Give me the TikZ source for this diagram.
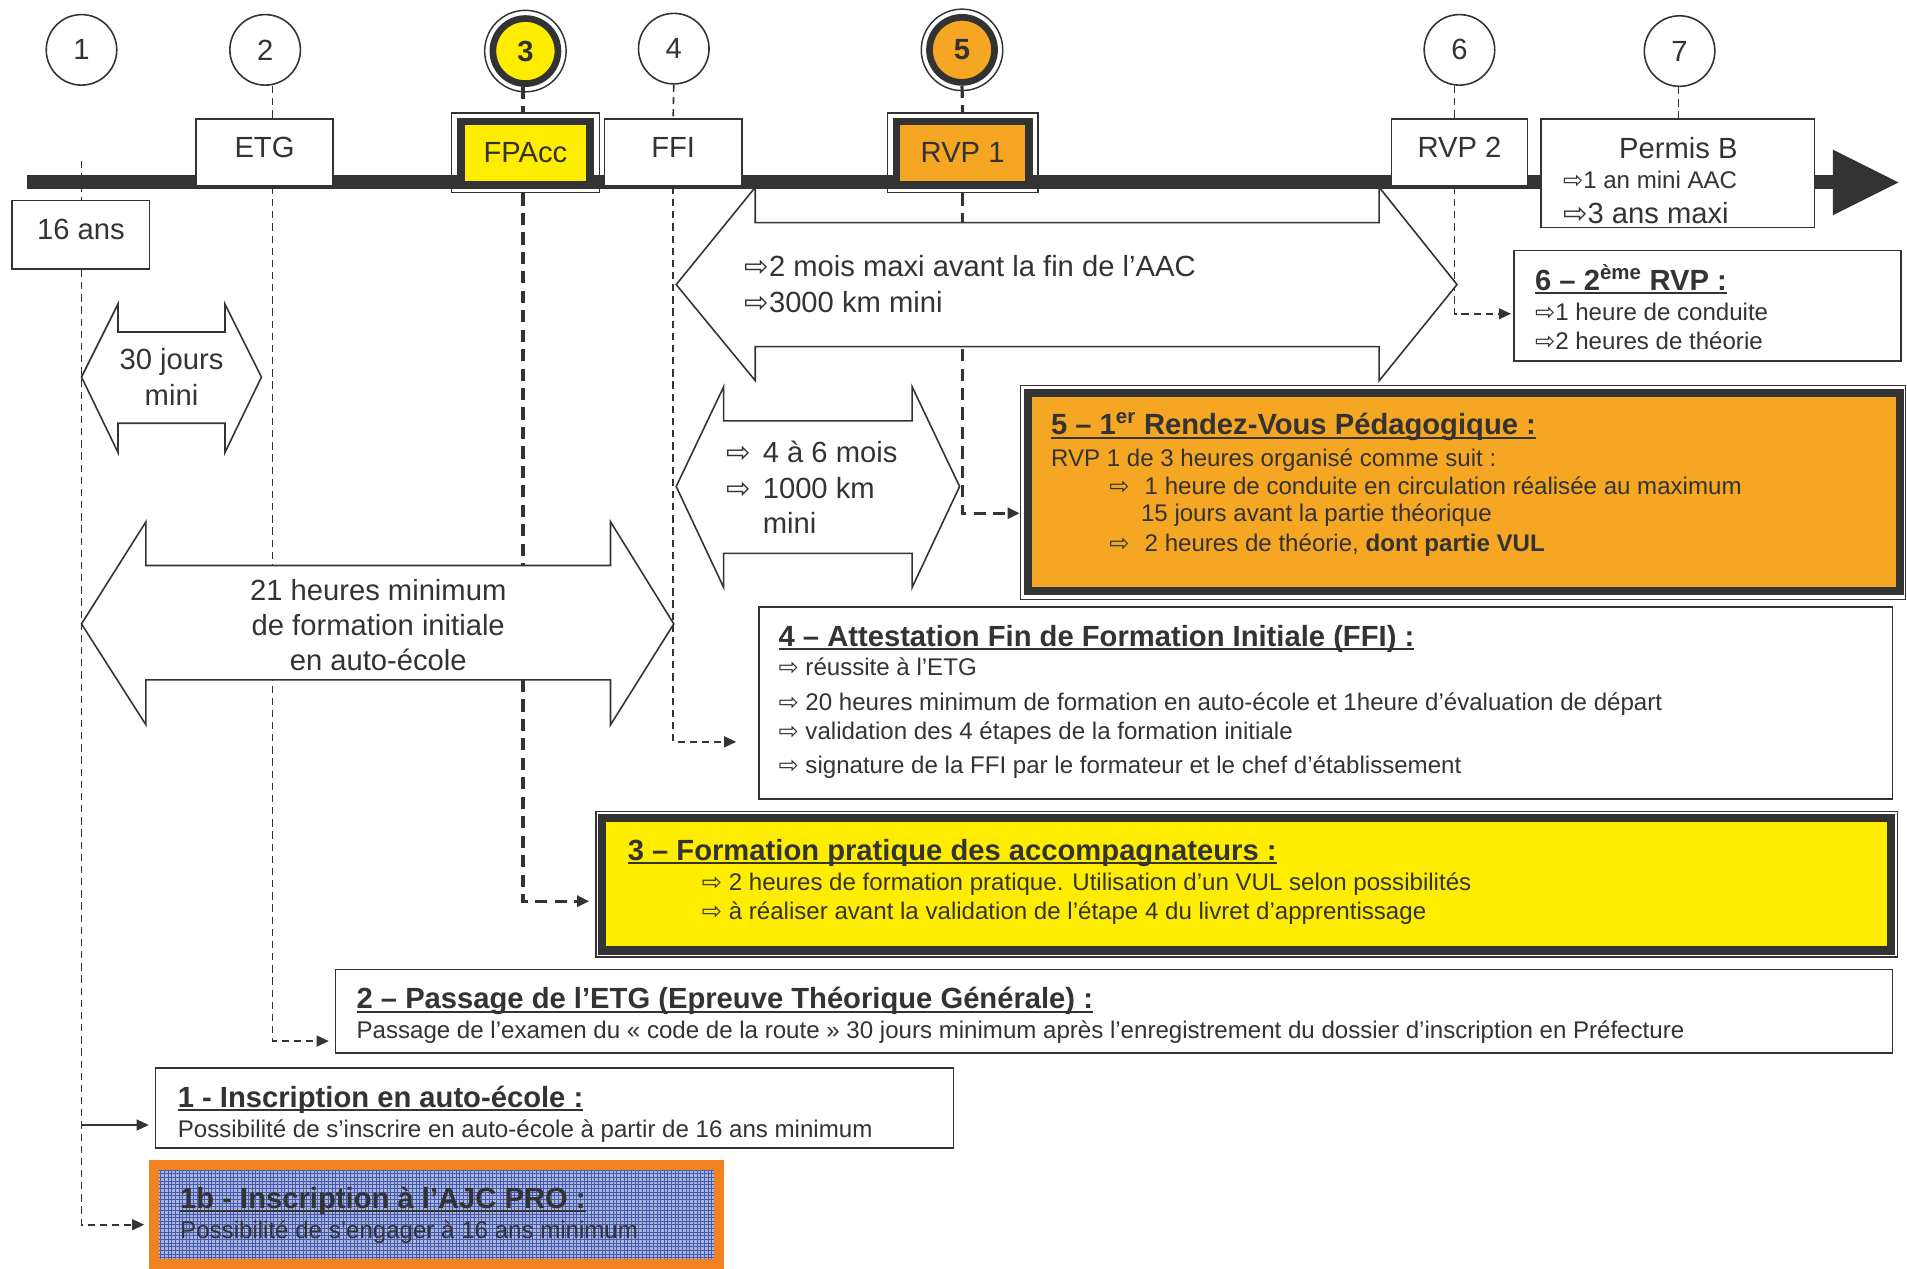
\documentclass[tikz,border=0pt]{standalone}
\usepackage{fontspec}
\setmainfont{Liberation Sans}
\newfontfamily\symfont{DejaVu Sans}
\usetikzlibrary{arrows.meta,backgrounds,patterns}
\definecolor{encre}{RGB}{51,51,51}
\definecolor{jaune}{RGB}{255,237,0}
\definecolor{orangerv}{RGB}{245,166,35}
\definecolor{orangeaj}{RGB}{242,130,32}
\definecolor{bleuaj}{RGB}{170,182,225}
\definecolor{grilleaj}{RGB}{70,90,170}
\newcommand\grand{\fontsize{24}{29}\selectfont}
\newcommand\corps{\fontsize{19.8}{24}\selectfont}
\newcommand\fl{{\symfont ⇨}}
\newlength\ullong
\newcommand\souligne[1]{\settowidth{\ullong}{#1}\rlap{\rule[-3pt]{\ullong}{1.6pt}}#1}

\begin{document}
\begin{tikzpicture}[x=1pt,y=-1pt,
  boite/.style={draw=encre,line width=1.3,fill=white,inner sep=0,text=encre,font=\grand},
  boitefort/.style={draw=encre,line width=6,inner sep=0,text=encre,font=\grand},
  cadre/.style={draw=encre,line width=1.1,inner sep=0},
  rond/.style={circle,draw=encre,line width=1.3,fill=white,minimum size=58,inner sep=0,text=encre,font=\grand},
  rondfort/.style={circle,draw=encre,line width=5.5,minimum size=53.5,inner sep=0,text=encre,font=\grand\bfseries},
  fleche/.style={draw=encre,line width=1.3,fill=white,line join=miter},
  tiret/.style={encre,line width=1.3,dash pattern=on 6pt off 4pt},
  tiretfort/.style={encre,line width=2.6,dash pattern=on 10pt off 6pt},
  pointe/.style={-{Triangle[length=10pt,width=9pt]}},
  texte/.style={inner sep=0,text=encre,font=\grand},
  ligne/.style={anchor=base west,inner sep=0,text=encre,font=\corps},
  titre/.style={anchor=base west,inner sep=0,text=encre,font=\grand\bfseries}]

\useasboundingbox (0,0) rectangle (1568,1043);

\fill[encre] (22,144) rectangle (1510,155);
\fill[encre] (1507,123) -- (1561,150) -- (1507,177) -- cycle;

\node[rond] (c1) at (67,41) {1};
\node[rond] (c2) at (218,41) {2};
\node[rondfort,fill=jaune] (c3) at (432,42) {3};
\draw[encre,line width=1.2] (c3.center) circle[radius=33.5pt];
\node[rond] (c4) at (554,40) {4};
\node[rondfort,fill=orangerv] (c5) at (791,41) {5};
\draw[encre,line width=1.2] (c5.center) circle[radius=33.5pt];
\node[rond] (c6) at (1200,41) {6};
\node[rond] (c7) at (1381,42) {7};

\node[boite,minimum width=113,minimum height=56,text depth=9pt] (ans16) at (66.5,193) {16 ans};
\node[boite,minimum width=113,minimum height=55,text depth=9pt] (etg) at (217.5,125.5) {ETG};
\node[cadre,minimum width=122,minimum height=65.5] (fpacc-cadre) at (432,125.75) {};
\node[boitefort,fill=jaune,minimum width=106,minimum height=51.5] (fpacc) at (432,125.75) {FPAcc};
\node[boite,minimum width=113,minimum height=55,text depth=9pt] (ffi) at (553.5,125.5) {FFI};
\node[cadre,minimum width=124,minimum height=65.5] (rvp1-cadre) at (791.5,125.75) {};
\node[boitefort,fill=orangerv,minimum width=109,minimum height=51.5] (rvp1) at (791.5,125.75) {RVP 1};
\node[boite,minimum width=112,minimum height=55,text depth=9pt] (rvp2) at (1200,125.5) {RVP 2};
\node[boite,minimum width=225,minimum height=89] (permis) at (1379.5,142.5) {};
\node[texte,anchor=base] (permis-t) at (1380,130.6) {Permis B};
\node[ligne] (permis-l1) at (1285,155.2) {\fl1 an mini AAC};
\node[ligne,font=\grand] (permis-l2) at (1285,183.6) {\fl3 ans maxi};

\draw[fleche] (556,234) -- (621,154) -- (621,183) -- (1134,183) -- (1134,154) -- (1198,234)
  -- (1134,313) -- (1134,285) -- (621,285) -- (621,313) -- cycle;
\node[texte,anchor=base west] (t2m-l1) at (612,227.6) {\fl2 mois maxi avant la fin de l’AAC};
\node[texte,anchor=base west] (t2m-l2) at (612,256.6) {\fl3000 km mini};

\draw[fleche] (67,310) -- (97,250) -- (97,273) -- (185,273) -- (185,250) -- (215,310)
  -- (185,372) -- (185,348) -- (97,348) -- (97,372) -- cycle;
\node[texte,align=center] (t30) at (141,310) {30 jours\\mini};

\draw[fleche] (556,400) -- (595,318) -- (595,346) -- (750,346) -- (750,318) -- (789,400)
  -- (750,483) -- (750,455) -- (595,455) -- (595,483) -- cycle;
\node[texte,anchor=base west] (t46-l1) at (597,380.6) {\makebox[30pt][l]{\fl}4 à 6 mois};
\node[texte,anchor=base west] (t46-l2) at (597,409.6) {\makebox[30pt][l]{\fl}1000 km};
\node[texte,anchor=base west] (t46-l3) at (627,438.6) {mini};

\draw[fleche] (67,513) -- (120,429) -- (120,465) -- (502,465) -- (502,429) -- (554,513)
  -- (502,596) -- (502,559) -- (120,559) -- (120,596) -- cycle;
\node[texte,align=center] (t21) at (311,514) {21 heures minimum\\de formation initiale\\en auto-école};

\node[boite,minimum width=318,minimum height=91] (d6) at (1404,251.5) {};
\node[titre] (d6-t) at (1262,238.6) {\souligne{6 – 2\textsuperscript{ème} RVP :}};
\node[ligne] (d6-l1) at (1262,263.2) {\fl1 heure de conduite};
\node[ligne] (d6-l2) at (1262,287.2) {\fl2 heures de théorie};

\node[cadre,minimum width=728,minimum height=176] (d5-cadre) at (1203,405) {};
\node[boitefort,line width=6.5,fill=orangerv,minimum width=717,minimum height=163] (d5) at (1203.5,404.5) {};
\node[titre] (d5-t) at (864,357.6) {\souligne{5 – 1\textsuperscript{er} Rendez-Vous Pédagogique :}};
\node[ligne] (d5-l1) at (864,383.2) {RVP 1 de 3 heures organisé comme suit :};
\node[ligne] (d5-l2) at (912,406.2) {\makebox[29pt][l]{\fl}1 heure de conduite en circulation réalisée au maximum};
\node[ligne] (d5-l3) at (938,429.2) {15 jours avant la partie théorique};
\node[ligne] (d5-l4) at (912,453.2) {\makebox[29pt][l]{\fl}2 heures de théorie, \textbf{dont partie VUL}};

\node[boite,minimum width=932,minimum height=158] (d4) at (1090,578) {};
\node[titre] (d4-t) at (640,531.6) {\souligne{4 – Attestation Fin de Formation Initiale (FFI) :}};
\node[ligne] (d4-l1) at (640,555.2) {\fl\ réussite à l’ETG};
\node[ligne] (d4-l2) at (640,584.2) {\fl\ 20 heures minimum de formation en auto-école et 1heure d’évaluation de départ};
\node[ligne] (d4-l3) at (640,608.2) {\fl\ validation des 4 étapes de la formation initiale};
\node[ligne] (d4-l4) at (640,636.2) {\fl\ signature de la FFI par le formateur et le chef d’établissement};

\node[cadre,minimum width=1070,minimum height=120] (d3-cadre) at (1025,727) {};
\node[boitefort,line width=7,fill=jaune,minimum width=1060,minimum height=108.7] (d3) at (1025,727) {};
\node[titre] (d3-t) at (516,707.6) {\souligne{3 – Formation pratique des accompagnateurs :}};
\node[ligne] (d3-l1) at (577,732.2) {\fl\ 2 heures de formation pratique. Utilisation d’un VUL selon possibilités};
\node[ligne] (d3-l2) at (577,756.2) {\fl\ à réaliser avant la validation de l’étape 4 du livret d’apprentissage};

\node[boite,minimum width=1280,minimum height=69] (d2) at (916,831.5) {};
\node[titre] (d2-t) at (293,829.6) {\souligne{2 – Passage de l’ETG (Epreuve Théorique Générale) :}};
\node[ligne] (d2-l1) at (293,854.2) {Passage de l’examen du « code de la route » 30 jours minimum après l’enregistrement du dossier d’inscription en Préfecture};

\node[boite,minimum width=656,minimum height=66] (d1) at (456,911) {};
\node[titre] (d1-t) at (146,910.6) {\souligne{1 - Inscription en auto-école :}};
\node[ligne] (d1-l1) at (146,935.2) {Possibilité de s’inscrire en auto-école à partir de 16 ans minimum};

\node[draw=orangeaj,line width=8,inner sep=0,preaction={fill=bleuaj},pattern=grid,pattern color=grilleaj,
  minimum width=464.4,minimum height=81.5] (d1b) at (358.8,998.75) {};
\node[titre] (d1b-t) at (148,993.6) {\souligne{1b - Inscription à l’AJC PRO :}};
\node[ligne] (d1b-l1) at (148,1018.2) {Possibilité de s’engager à 16 ans minimum};

\begin{scope}[on background layer]
\fill[white] (0,0) rectangle (1568,1043);
\coordinate (o1) at (67,132);
\draw[tiret,pointe,shorten >=4pt] (o1) |- (d1b.west |- 0,1007);
\draw[encre,line width=1.3,pointe,shorten >=5pt] (o1 |- 0,925) -- (d1.west |- 0,925);
\draw[tiret] (c2.south -| 224,0) -- (etg.north -| 224,0);
\draw[tiret,pointe,shorten >=5pt] (etg.south -| 224,0) |- (d2.west |- 0,856);
\draw[tiretfort] (c3.south -| 430,0) -- (fpacc-cadre.north -| 430,0);
\draw[tiretfort,pointe,shorten >=5pt] (fpacc-cadre.south -| 430,0) |- (d3-cadre.west |- 0,741);
\draw[tiret] (c4.south) -- (ffi.north);
\draw[tiret,pointe,shorten >=18pt] (ffi.south) |- (d4.west |- 0,610);
\draw[tiretfort] (c5.south) -- (rvp1-cadre.north);
\draw[tiretfort,pointe] (rvp1-cadre.south) |- (d5-cadre.west |- 0,422);
\draw[tiret] (c6.south -| 1196,0) -- (rvp2.north -| 1196,0);
\draw[tiret,pointe,shorten >=2pt] (rvp2.south -| 1196,0) |- (d6.west |- 0,258);
\draw[tiret] (c7.south -| 1380,0) -- (permis.north -| 1380,0);
\end{scope}
\end{tikzpicture}
\end{document}
